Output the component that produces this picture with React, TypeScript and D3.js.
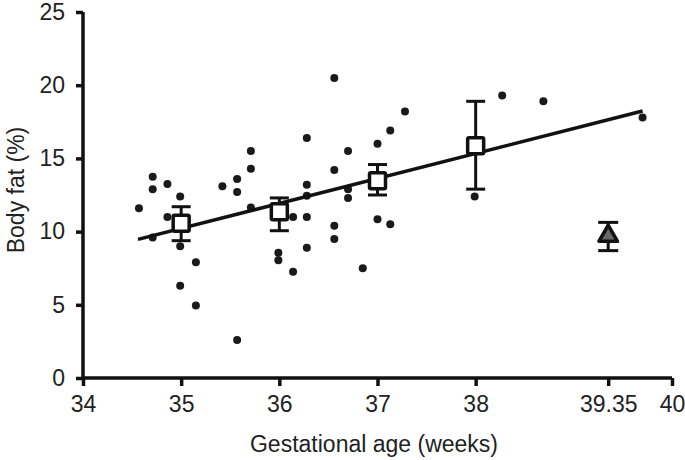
import { useEffect, useRef } from 'react';
import * as d3 from 'd3';

// individual infants: gestational age (weeks) and body fat (%)
const pointWeeks = [
  34.57, 34.71, 34.71, 34.71, 34.86, 34.86, 34.99, 34.99, 34.99, 35.15, 35.15,
  35.42, 35.57, 35.57, 35.57, 35.71, 35.71, 35.71, 35.99, 35.99, 36.14, 36.14,
  36.28, 36.28, 36.28, 36.28, 36.28, 36.56, 36.56, 36.56, 36.56, 36.7, 36.7,
  36.7, 36.85, 37.0, 37.0, 37.13, 37.13, 37.28, 37.99, 38.27, 38.69, 39.7,
];
const pointFat = [
  11.6, 13.75, 12.9, 9.6, 13.25, 11.0, 12.4, 9.0, 6.3, 7.9, 4.95,
  13.1, 13.6, 12.7, 2.6, 15.5, 14.3, 11.65, 8.55, 8.05, 11.0, 7.25,
  16.4, 13.2, 12.45, 11.0, 8.9, 20.5, 14.2, 10.4, 9.5, 15.5, 12.9,
  12.3, 7.5, 16.0, 10.85, 16.9, 10.5, 18.2, 12.4, 19.3, 18.9, 17.8,
];

// group means with error bars
const meanWeeks = [35, 36, 37, 38];
const meanFat = [10.57, 11.36, 13.48, 15.87];
const meanLow = [9.38, 10.06, 12.5, 12.9];
const meanHigh = [11.7, 12.3, 14.58, 18.9];

// term reference group
const termWeeks = [39.35];
const termFat = [9.7];
const termLow = [8.7];
const termHigh = [10.63];

// regression line end points
const fitWeeks = [34.56, 39.7];
const fitFat = [9.47, 18.24];

const xTicks = [34, 35, 36, 37, 38, 39.35, 40];
const yTicks = [0, 5, 10, 15, 20, 25];

const W = 685;
const H = 460;
const FONT = '"Liberation Sans", Arial, sans-serif';

export default function App() {
  const ref = useRef<SVGSVGElement>(null);

  useEffect(() => {
    if (!ref.current) return;
    const svg = d3.select(ref.current);
    svg.selectAll('*').remove();

    const x = d3.scaleLinear().domain([34, 40]).range([83, 672]);
    const y = d3.scaleLinear().domain([0, 25]).range([378, 12]);

    // axes
    const xAxis = svg
      .append('g')
      .attr('transform', `translate(0,${y(0)})`)
      .call(
        d3
          .axisBottom(x)
          .tickValues(xTicks)
          .tickSize(8)
          .tickPadding(10)
          .tickFormat((d) => String(d)) as never
      );
    const yAxis = svg
      .append('g')
      .attr('transform', `translate(${x(34)},0)`)
      .call(d3.axisLeft(y).tickValues(yTicks).tickSize(7).tickPadding(11) as never);

    [xAxis, yAxis].forEach((a) => {
      a.select('.domain').attr('stroke', '#111').attr('stroke-width', 3.5);
      a.selectAll('.tick line').attr('stroke', '#111').attr('stroke-width', 3.5);
      a.selectAll('.tick text')
        .attr('fill', '#222')
        .style('font-family', FONT)
        .style('font-size', '23px');
    });
    xAxis.select('.domain').attr('d', `M${x(34)},0H${x(40)}`);
    yAxis.select('.domain').attr('d', `M0,${y(0)}V${y(25)}`);

    svg
      .append('text')
      .attr('x', 374)
      .attr('y', 452)
      .attr('text-anchor', 'middle')
      .attr('fill', '#222')
      .style('font-family', FONT)
      .style('font-size', '23px')
      .text('Gestational age (weeks)');

    svg
      .append('text')
      .attr('transform', `translate(24,190) rotate(-90)`)
      .attr('text-anchor', 'middle')
      .attr('fill', '#222')
      .style('font-family', FONT)
      .style('font-size', '23px')
      .text('Body fat (%)');

    // scatter points
    svg
      .append('g')
      .selectAll('circle')
      .data(pointWeeks)
      .join('circle')
      .attr('cx', (d) => x(d))
      .attr('cy', (_, i) => y(pointFat[i]))
      .attr('r', 4)
      .attr('fill', '#1a1a1a');

    // regression line
    svg
      .append('path')
      .datum(fitWeeks.map((w, i) => [w, fitFat[i]] as [number, number]))
      .attr('fill', 'none')
      .attr('stroke', '#111')
      .attr('stroke-width', 3.5)
      .attr('d', d3.line().x((d) => x(d[0])).y((d) => y(d[1])));

    const errBars = (
      weeks: number[],
      low: number[],
      high: number[],
      capW: number
    ) => {
      const g = svg.append('g').attr('stroke', '#111').attr('stroke-width', 3);
      weeks.forEach((w, i) => {
        const cx = x(w);
        g.append('line').attr('x1', cx).attr('x2', cx).attr('y1', y(low[i])).attr('y2', y(high[i]));
        g.append('line').attr('x1', cx - capW / 2).attr('x2', cx + capW / 2).attr('y1', y(low[i])).attr('y2', y(low[i]));
        g.append('line').attr('x1', cx - capW / 2).attr('x2', cx + capW / 2).attr('y1', y(high[i])).attr('y2', y(high[i]));
      });
    };

    errBars(meanWeeks, meanLow, meanHigh, 19);
    errBars(termWeeks, termLow, termHigh, 20);

    // mean squares
    svg
      .append('g')
      .selectAll('rect')
      .data(meanWeeks)
      .join('rect')
      .attr('x', (d) => x(d) - 8)
      .attr('y', (_, i) => y(meanFat[i]) - 8)
      .attr('width', 16)
      .attr('height', 16)
      .attr('rx', 1.5)
      .attr('fill', '#fff')
      .attr('stroke', '#111')
      .attr('stroke-width', 3.5);

    // term triangle
    svg
      .append('g')
      .selectAll('path')
      .data(termWeeks)
      .join('path')
      .attr('transform', (d, i) => `translate(${x(d)},${y(termFat[i])})`)
      .attr('d', d3.symbol(d3.symbolTriangle, 150)())
      .attr('fill', '#666')
      .attr('stroke', '#111')
      .attr('stroke-width', 3.5)
      .attr('stroke-linejoin', 'round');
  }, []);

  return (
    <svg
      ref={ref}
      width={W}
      height={H}
      style={{ position: 'absolute', left: 0, top: 0, background: '#fff' }}
    />
  );
}
